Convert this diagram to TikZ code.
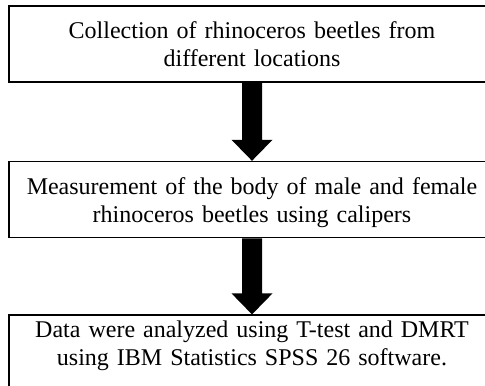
\documentclass[tikz,border=0pt]{standalone}
\usepackage{fontspec}
\setmainfont{Liberation Serif}
\usetikzlibrary{positioning, calc}
\tikzset{
	stepbox/.style={draw, thick, rectangle, minimum width=243pt, minimum height=38pt,
		text width=230pt, align=center, text height=8pt, text depth=13.5pt,
		font=\fontsize{12}{14}\selectfont},
	blockarrow/.style={fill=black}
}
\begin{document}
\begin{tikzpicture}[x=0.5pt, y=0.5pt]
	\path[use as bounding box] (0,0) rectangle (485,-385);
	\node[stepbox] (collect) at (252,-44) {Collection of rhinoceros beetles from\\different locations};
	\node[stepbox, below=39pt of collect] (measure) {Measurement of the body of male and female\\rhinoceros beetles using calipers};
	\node[stepbox, below=38pt of measure, text depth=24pt] (analyze) {Data were analyzed using T-test and DMRT\\using IBM Statistics SPSS 26 software.};

%	block arrows
	\fill[blockarrow] ($(collect.south)+(-10,0)$) -- ($(collect.south)+(10,0)$)
		-- ($(measure.north)+(10,21)$) -- ($(measure.north)+(20.5,21)$) -- (measure.north)
		-- ($(measure.north)+(-20.5,21)$) -- ($(measure.north)+(-10,21)$) -- cycle;
	\fill[blockarrow] ($(measure.south)+(-10,0)$) -- ($(measure.south)+(10,0)$)
		-- ($(analyze.north)+(10,21)$) -- ($(analyze.north)+(20.5,21)$) -- (analyze.north)
		-- ($(analyze.north)+(-20.5,21)$) -- ($(analyze.north)+(-10,21)$) -- cycle;
\end{tikzpicture}
\end{document}
